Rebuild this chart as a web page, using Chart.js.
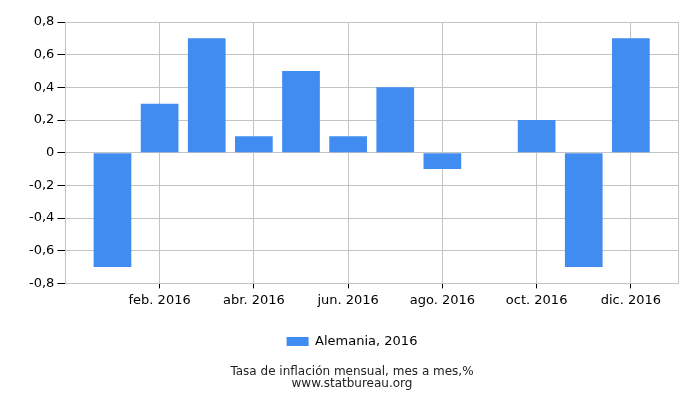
<!DOCTYPE html>
<html>
<head>
<meta charset="utf-8">
<script src="https://cdn.jsdelivr.net/npm/chart.js@4/dist/chart.umd.min.js"></script>
<style>
  body { margin: 0; background: #fff; }
  #wrap { width: 700px; height: 400px; }
</style>
</head>
<body>
<div id="wrap"><canvas id="c"></canvas></div>
<script>
var months = [1, 2, 3, 4, 5, 6, 7, 8, 9, 10, 11, 12];
var inflation = [-0.7, 0.3, 0.7, 0.1, 0.5, 0.1, 0.4, -0.1, 0, 0.2, -0.7, 0.7];
var tickMonths = [2, 4, 6, 8, 10, 12];
var tickLabels = ['feb. 2016', 'abr. 2016', 'jun. 2016', 'ago. 2016', 'oct. 2016', 'dic. 2016'];
var seriesLabel = 'Alemania, 2016';
var titleLines = ['Tasa de inflación mensual, mes a mes,%', 'www.statbureau.org'];

Chart.defaults.font.family = 'DejaVu Sans';
Chart.defaults.font.size = 13;
Chart.defaults.color = '#000';

// right edge of the plot frame
var frame = {
  id: 'frame',
  afterDraw: function(chart) {
    var a = chart.chartArea, c = chart.ctx;
    c.save();
    c.strokeStyle = '#c4c4c4';
    c.lineWidth = 1;
    c.beginPath();
    c.moveTo(Math.round(a.right) + 0.5, a.top);
    c.lineTo(Math.round(a.right) + 0.5, a.bottom);
    c.stroke();
    c.restore();
  }
};

var data = months.map(function(m, i) { return { x: m, y: inflation[i] }; });

new Chart(document.getElementById('c'), {
  type: 'bar',
  data: {
    datasets: [
      { label: seriesLabel, data: data, backgroundColor: '#418cf0', borderWidth: 0,
        barPercentage: 1, categoryPercentage: 0.8 }
    ]
  },
  options: {
    responsive: true, maintainAspectRatio: false, animation: false,
    layout: { padding: { left: 26, right: 22, top: 22, bottom: 10 } },
    plugins: {
      legend: { position: 'bottom', labels: { boxWidth: 22, boxHeight: 9, padding: 8, color: '#000', font: { size: 13 } } },
      title: { display: true, position: 'bottom', text: titleLines, color: '#222', font: { size: 12, weight: 'normal', lineHeight: 1.0 }, padding: { top: 8, bottom: 0 } },
      tooltip: { enabled: false }
    },
    scales: {
      x: {
        type: 'linear', min: 0.0, max: 13, offset: false,
        afterBuildTicks: function(scale) { scale.ticks = tickMonths.map(function(v) { return { value: v }; }); },
        afterFit: function(scale) { scale.height += 15; },
        ticks: {
          autoSkip: false, maxRotation: 0, padding: 4,
          callback: function(v) { var k = tickMonths.indexOf(v); return k >= 0 ? tickLabels[k] : ''; }
        },
        grid: { offset: false, color: '#c4c4c4', tickColor: '#000', tickLength: 5 },
        border: { color: '#c4c4c4' }
      },
      y: {
        min: -0.8, max: 0.8,
        ticks: {
          stepSize: 0.2, padding: 3,
          callback: function(v) { var r = Math.round(v * 10) / 10; return r === 0 ? '0' : r.toFixed(1).replace('.', ','); }
        },
        grid: { color: '#c4c4c4', tickColor: '#000', tickLength: 8 },
        border: { color: '#c4c4c4' }
      }
    }
  },
  plugins: [frame]
});
</script>
</body>
</html>
